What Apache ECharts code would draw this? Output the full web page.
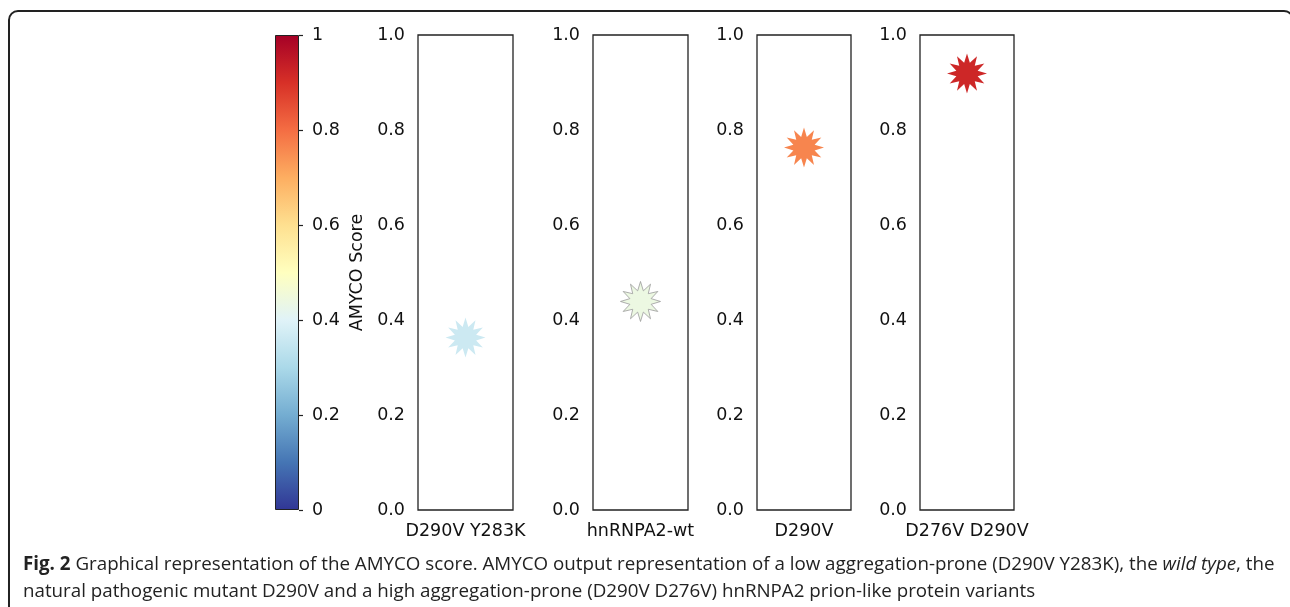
<!DOCTYPE html>
<html>
<head>
<meta charset="utf-8">
<script src="https://cdn.jsdelivr.net/npm/echarts@6/dist/echarts.min.js"></script>
<style>
  html, body { margin: 0; padding: 0; background: #fff; }
  #main { width: 1290px; height: 607px; }
</style>
</head>
<body>
<div id="main"></div>
<script>
// data
var variants = ['D290V Y283K', 'hnRNPA2-wt', 'D290V', 'D276V D290V'];
var amycoScores = [0.363, 0.439, 0.763, 0.919];
var scoreTicks = [0, 0.2, 0.4, 0.6, 0.8, 1];
// RdYlBu reversed, low -> high
var colormap = ['#313695', '#4575b4', '#74add1', '#abd9e9', '#e0f3f8', '#ffffbf',
                '#fee090', '#fdae61', '#f46d43', '#d73027', '#a50026'];

// layout (pixels)
var plotTop = 35, plotHeight = 475;
var panelLefts = [418, 593, 757, 920];
var panelWidths = [95, 95, 94, 94];
var FONT = 'DejaVu Sans';
var INK = '#111';

// 12 point star, point at top
function starPath(n, inner) {
  var pts = [];
  for (var i = 0; i < n * 2; i++) {
    var r = (i % 2 === 0) ? 1 : inner;
    var a = Math.PI / 2 + i * Math.PI / n;
    pts.push((50 + 50 * r * Math.cos(a)).toFixed(2) + ' ' + (50 - 50 * r * Math.sin(a)).toFixed(2));
  }
  return 'path://M' + pts.join(' L') + ' Z';
}
var star = starPath(12, 0.55);

var grids = [{ left: 275, top: plotTop, width: 24, height: plotHeight }];
var xAxes = [{ gridIndex: 0, type: 'category', data: ['cb'], show: false }];
var yAxes = [{
  gridIndex: 0, type: 'value', min: 0, max: 1, interval: 0.2, position: 'right',
  axisLine: { show: false },
  axisTick: { show: true, length: 4, lineStyle: { color: '#222', width: 1.2 } },
  axisLabel: { margin: 13, color: INK, fontFamily: FONT, fontSize: 17.5,
    formatter: function (v) { return scoreTicks.indexOf(v) >= 0 ? String(+v.toFixed(1)) : ''; } },
  splitLine: { show: false },
  name: 'AMYCO Score', nameLocation: 'middle', nameRotate: 90, nameGap: 49,
  nameTextStyle: { color: INK, fontFamily: FONT, fontSize: 17.5 }
}];

var gradStops = colormap.map(function (c, i) {
  return { offset: 1 - i / (colormap.length - 1), color: c };
});

var series = [{
  type: 'bar', xAxisIndex: 0, yAxisIndex: 0, data: [1], barWidth: '100%', silent: true,
  itemStyle: {
    color: { type: 'linear', x: 0, y: 0, x2: 0, y2: 1, colorStops: gradStops },
    borderColor: '#222', borderWidth: 1
  }
}];

variants.forEach(function (name, i) {
  var g = i + 1;
  grids.push({ left: panelLefts[i], top: plotTop, width: panelWidths[i], height: plotHeight,
    show: true, borderColor: '#222', borderWidth: 1.3, backgroundColor: 'transparent' });
  xAxes.push({ gridIndex: g, type: 'category', data: [name],
    axisLine: { show: false }, axisTick: { show: false },
    axisLabel: { margin: 12, color: INK, fontFamily: FONT, fontSize: 17.5 } });
  yAxes.push({ gridIndex: g, type: 'value', min: 0, max: 1, interval: 0.2,
    axisLine: { show: false }, axisTick: { show: false }, splitLine: { show: false },
    axisLabel: { margin: 13, color: INK, fontFamily: FONT, fontSize: 17.5,
      formatter: function (v) { return v.toFixed(1); } } });
  series.push({
    type: 'scatter', xAxisIndex: g, yAxisIndex: g,
    symbol: star, symbolSize: 40,
    itemStyle: i === 1 ? { opacity: 1, borderColor: '#9a9a9a', borderWidth: 0.8 } : { opacity: 1, borderWidth: 0 },
    data: [[name, amycoScores[i]]]
  });
});

var caption = '{b|Fig. 2} Graphical representation of the AMYCO score. AMYCO output representation of a low aggregation-prone (D290V Y283K), the {i|wild type}, the\n' +
  'natural pathogenic mutant D290V and a high aggregation-prone (D290V D276V) hnRNPA2 prion-like protein variants';
var capSize = 18.75;

var option = {
  backgroundColor: '#fff',
  animation: false,
  grid: grids,
  xAxis: xAxes,
  yAxis: yAxes,
  visualMap: {
    show: false, type: 'continuous', min: 0, max: 1,
    seriesIndex: [1, 2, 3, 4], dimension: 1,
    inRange: { color: colormap }
  },
  series: series,
  graphic: [
    { type: 'rect', shape: { x: 9, y: 11, width: 1284, height: 700, r: 9 },
      style: { fill: 'none', stroke: '#222', lineWidth: 2 }, silent: true },
    { type: 'text', left: 23, top: 551,
      style: { text: caption, fill: '#222', fontFamily: 'Open Sans', fontSize: capSize, lineHeight: 27,
        rich: {
          b: { fontWeight: 'bold', fontFamily: 'Open Sans', fontSize: capSize, lineHeight: 27, fill: '#222' },
          i: { fontStyle: 'italic', fontFamily: 'Open Sans', fontSize: capSize, lineHeight: 27, fill: '#222' }
        } } }
  ]
};

var myChart = echarts.init(document.getElementById('main'));
myChart.setOption(option);
</script>
</body>
</html>
